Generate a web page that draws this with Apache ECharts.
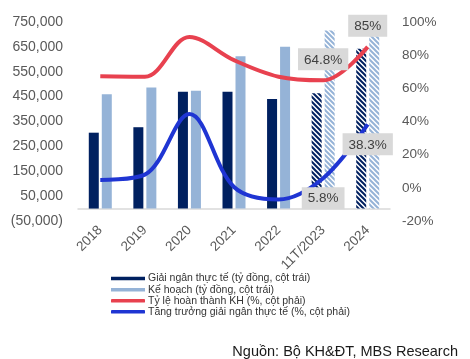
<!DOCTYPE html>
<html>
<head>
<meta charset="utf-8">
<script src="https://cdn.jsdelivr.net/npm/echarts@6/dist/echarts.min.js"></script>
<style>
html,body{margin:0;padding:0;background:#fff;}
#c{width:470px;height:359px;}
</style>
</head>
<body>
<div id="c"></div>
<script>
const categories = ['2018', '2019', '2020', '2021', '2022', '11T/2023', '2024'];
const actualDisbursement = [305000, 327000, 470000, 470000, 440000, 464000, 642000];
const planValues = [460000, 487000, 474000, 612000, 651000, 716000, 693000];
const completionRate = [67.3, 67, 91, 77, 67, 64.8, 85];
const growthRate = [4.7, 8, 44.5, 0.5, -7, 5.8, 38.3];
const hatchedFrom = 5;
const labelledFrom = 5;
const seriesNames = [
  'Giải ngân thực tế (tỷ đồng, cột trái)',
  'Kế hoạch (tỷ đồng, cột trái)',
  'Tỷ lệ hoàn thành KH (%, cột phải)',
  'Tăng trưởng giải ngân thực tế (%, cột phải)'
];
const sourceText = 'Nguồn: Bộ KH&ĐT, MBS Research';

const FONT = '"Liberation Sans", Arial, sans-serif';
const C_DARK = '#002060';
const C_LIGHT = '#95b3d7';
const C_RED = '#e8414f';
const C_BLUE = '#1f35d3';

function hatch(color) {
  const s = 5;
  const cv = document.createElement('canvas');
  cv.width = s; cv.height = s;
  const ctx = cv.getContext('2d');
  ctx.fillStyle = '#fff';
  ctx.fillRect(0, 0, s, s);
  ctx.strokeStyle = color;
  ctx.lineWidth = 2;
  ctx.beginPath();
  for (let k = -1; k <= 1; k++) {
    ctx.moveTo(k * s - 1, -1);
    ctx.lineTo(k * s + s + 1, s + 1);
  }
  ctx.stroke();
  return { image: cv, repeat: 'repeat' };
}

function barData(vals, color) {
  return vals.map((v, i) => i >= hatchedFrom ? { value: v, itemStyle: { color: hatch(color) } } : v);
}

function lineData(vals, pos) {
  return vals.map((v, i) => i >= labelledFrom ? {
    value: v,
    label: {
      show: true, position: pos, distance: pos === 'top' ? 10 : 9,
      formatter: (p) => p.value + '%',
      backgroundColor: '#d9d9d9', padding: [4, 6, 3, 6], lineHeight: 15,
      fontSize: 13.5, color: '#404040', fontFamily: FONT
    }
  } : v);
}

function fmtLeft(v) {
  const s = Math.abs(v).toLocaleString('en-US');
  return v < 0 ? '(' + s + ')' : s;
}

const chart = echarts.init(document.getElementById('c'), null, { renderer: 'canvas' });
chart.setOption({
  animation: false,
  backgroundColor: '#fff',
  grid: { left: 78, right: 80, top: 22, bottom: 138 },
  legend: {
    orient: 'vertical', left: 106, top: 268,
    itemWidth: 34, itemHeight: 3.5, itemGap: 0,
    icon: 'rect',
    textStyle: { fontSize: 10.5, color: '#333', fontFamily: FONT, lineHeight: 11.1, padding: [0, 0, 0, -2] },
    data: seriesNames.map((n, i) => ({ name: n, icon: i < 2 ? 'rect' : 'roundRect' }))
  },
  xAxis: {
    type: 'category', data: categories,
    axisLine: { show: true, lineStyle: { color: '#d9d9d9', width: 1.5 } },
    axisTick: { show: false },
    axisLabel: { rotate: 45, fontSize: 13.5, color: '#595959', fontFamily: FONT, margin: 7, interval: 0 }
  },
  yAxis: [
    {
      type: 'value', min: -50000, max: 750000, interval: 100000,
      splitLine: { show: false }, axisLine: { show: false }, axisTick: { show: false },
      axisLabel: { fontSize: 14, color: '#595959', fontFamily: FONT, margin: 15, formatter: fmtLeft }
    },
    {
      type: 'value', min: -20, max: 100, interval: 20,
      splitLine: { show: false }, axisLine: { show: false }, axisTick: { show: false },
      axisLabel: { fontSize: 13.5, color: '#595959', fontFamily: FONT, margin: 12, formatter: '{value}%' }
    }
  ],
  series: [
    { name: seriesNames[0], type: 'bar', yAxisIndex: 0, barWidth: 10, barGap: '30%',
      itemStyle: { color: C_DARK }, data: barData(actualDisbursement, C_DARK) },
    { name: seriesNames[1], type: 'bar', yAxisIndex: 0, barWidth: 10,
      itemStyle: { color: C_LIGHT }, data: barData(planValues, C_LIGHT) },
    { name: seriesNames[2], type: 'line', yAxisIndex: 1, smooth: 0.35, symbol: 'circle', symbolSize: 0.1,
      lineStyle: { color: C_RED, width: 4 }, itemStyle: { color: C_RED },
      data: lineData(completionRate, 'top') },
    { name: seriesNames[3], type: 'line', yAxisIndex: 1, smooth: 0.35, symbol: 'circle', symbolSize: 0.1,
      lineStyle: { color: C_BLUE, width: 4 }, itemStyle: { color: C_BLUE },
      data: lineData(growthRate, 'bottom') }
  ],
  graphic: [{
    type: 'text', right: 12, top: 344,
    style: { text: sourceText, fontSize: 14.5, fill: '#1a1a1a', fontFamily: FONT }
  }]
});
</script>
</body>
</html>
